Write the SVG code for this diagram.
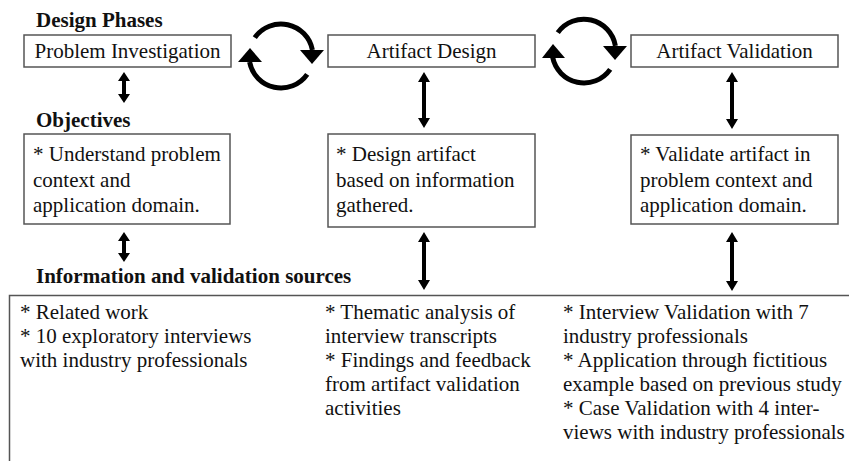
<svg xmlns="http://www.w3.org/2000/svg" width="849" height="461" viewBox="0 0 849 461" font-family="'Liberation Serif', 'Times New Roman', Tinos, 'DejaVu Serif', serif">
  <style>
    text { font-family: 'Liberation Serif', 'Times New Roman', Tinos, 'DejaVu Serif', serif; fill: #111; }
    .head { font-size: 21px; font-weight: bold; }
    .lbl { font-size: 21px; }
    .box { fill: #fff; stroke: #555; stroke-width: 1.5; }
    .dbl { fill: #000; }
    .arc { fill: none; stroke: #000; stroke-width: 5; }
    .tri { fill: #000; }
  </style>
  <rect width="849" height="461" fill="#fff"/>

  <!-- section headings -->
  <text class="head" x="36" y="27">Design Phases</text>
  <text class="head" x="36" y="127">Objectives</text>
  <text class="head" x="36" y="283">Information and validation sources</text>

  <!-- design phases -->
  <g id="phase-investigation">
    <rect class="box" x="24" y="35" width="207" height="32"/>
    <text class="lbl" x="127.5" y="58" text-anchor="middle">Problem Investigation</text>
  </g>
  <g id="phase-design">
    <rect class="box" x="328" y="35" width="207" height="32"/>
    <text class="lbl" x="431.5" y="58" text-anchor="middle">Artifact Design</text>
  </g>
  <g id="phase-validation">
    <rect class="box" x="631" y="35" width="207" height="32"/>
    <text class="lbl" x="734.5" y="58" text-anchor="middle">Artifact Validation</text>
  </g>

  <!-- objectives -->
  <g id="obj-investigation">
    <rect class="box" x="24" y="134" width="206" height="90"/>
    <text class="lbl" x="33" y="161">* Understand problem</text>
    <text class="lbl" x="33" y="187">context and</text>
    <text class="lbl" x="33" y="212">application domain.</text>
  </g>
  <g id="obj-design">
    <rect class="box" x="328" y="134" width="207" height="93"/>
    <text class="lbl" x="336" y="161">* Design artifact</text>
    <text class="lbl" x="336" y="187">based on information</text>
    <text class="lbl" x="336" y="212">gathered.</text>
  </g>
  <g id="obj-validation">
    <rect class="box" x="631" y="135" width="207" height="89"/>
    <text class="lbl" x="640" y="161">* Validate artifact in</text>
    <text class="lbl" x="640" y="187">problem context and</text>
    <text class="lbl" x="640" y="212">application domain.</text>
  </g>

  <!-- information and validation sources -->
  <g id="sources">
    <path d="M 870 295.5 L 9.5 295.5 L 9.5 480" fill="none" stroke="#555" stroke-width="1.5"/>
    <text class="lbl" x="20" y="319">* Related work</text>
    <text class="lbl" x="20" y="343">* 10 exploratory interviews</text>
    <text class="lbl" x="20" y="367">with industry professionals</text>

    <text class="lbl" x="325" y="319">* Thematic analysis of</text>
    <text class="lbl" x="325" y="343">interview transcripts</text>
    <text class="lbl" x="325" y="367">* Findings and feedback</text>
    <text class="lbl" x="325" y="391">from artifact validation</text>
    <text class="lbl" x="325" y="415">activities</text>

    <text class="lbl" x="563" y="319">* Interview Validation with 7</text>
    <text class="lbl" x="563" y="343">industry professionals</text>
    <text class="lbl" x="563" y="367">* Application through fictitious</text>
    <text class="lbl" x="563" y="391">example based on previous study</text>
    <text class="lbl" x="563" y="415">* Case Validation with 4 inter-</text>
    <text class="lbl" x="563" y="439">views with industry professionals</text>
  </g>

  <!-- connectors -->
  <g id="connectors">
    <!-- cycle between investigation and design -->
    <path class="arc" d="M 254.8 37.6 A 32 32 0 0 1 312.4 49.9"/>
    <polygon class="tri" points="300,50 324,50 312,64"/>
    <path class="arc" d="M 307.2 74.4 A 32 32 0 0 1 249.6 62.1"/>
    <polygon class="tri" points="238,62 262,62 250,48"/>

    <!-- cycle between design and validation -->
    <path class="arc" d="M 557.8 32.6 A 32 32 0 0 1 615.4 45.9"/>
    <polygon class="tri" points="603,46 627,46 615,60"/>
    <path class="arc" d="M 610.2 69.4 A 32 32 0 0 1 552.6 57.1"/>
    <polygon class="tri" points="542,58 565,58 553,44"/>

    <!-- vertical double arrows -->
    <path class="dbl" d="M124 72 L130 81 L126 81 L126 94 L130 94 L124 103 L118 94 L122 94 L122 81 L118 81 Z"/>
    <path class="dbl" d="M424 72 L430 82 L426 82 L426 118 L430 118 L424 128 L418 118 L422 118 L422 82 L418 82 Z"/>
    <path class="dbl" d="M732 72 L738 82 L734 82 L734 119 L738 119 L732 129 L726 119 L730 119 L730 82 L726 82 Z"/>

    <path class="dbl" d="M124 232 L130 241 L126 241 L126 253 L130 253 L124 262 L118 253 L122 253 L122 241 L118 241 Z"/>
    <path class="dbl" d="M424 232 L430 242 L426 242 L426 280 L430 280 L424 290 L418 280 L422 280 L422 242 L418 242 Z"/>
    <path class="dbl" d="M732 232 L738 242 L734 242 L734 281 L738 281 L732 291 L726 281 L730 281 L730 242 L726 242 Z"/>
  </g>
</svg>
